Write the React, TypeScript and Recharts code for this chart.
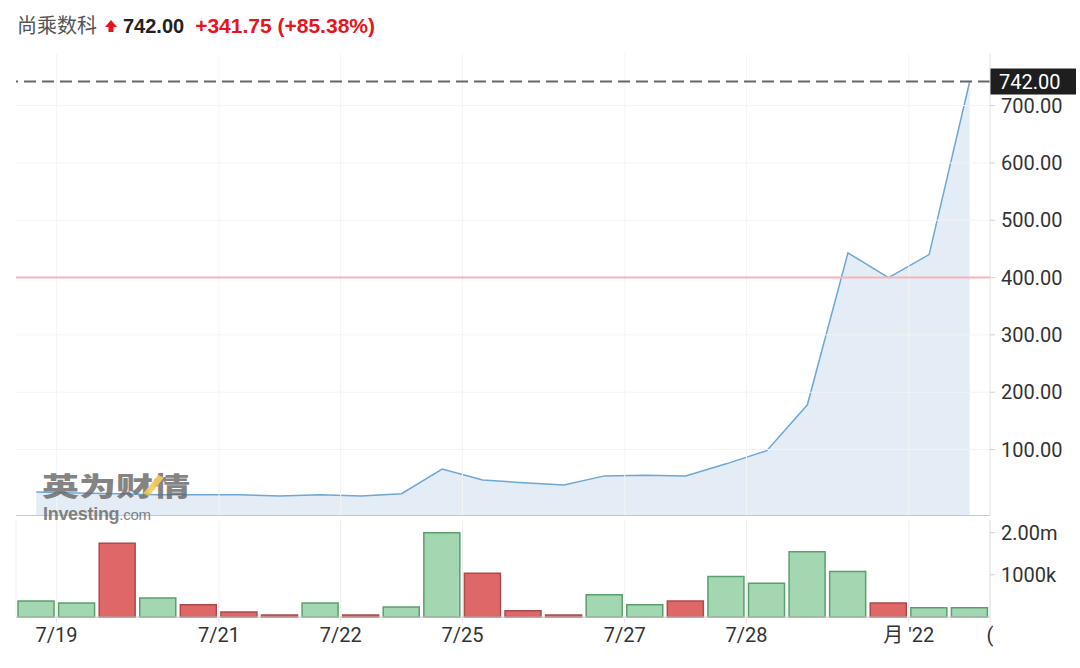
import { ComposedChart, Area, Bar, Cell, XAxis, YAxis, CartesianGrid, ReferenceLine } from 'recharts';

// close price per session slot
const prices = [26, 24, 23, 21, 21, 21, 19, 21, 19, 23, 66, 47, 42, 38, 54, 55, 54, 75, 98, 178, 443, 400, 440, 742];
// volume in thousands
const volumes = [380, 330, 1750, 450, 290, 120, 50, 330, 50, 240, 2000, 1040, 150, 50, 530, 290, 380, 960, 800, 1550, 1080, 330, 220, 220];
const direction = ['up', 'up', 'down', 'up', 'down', 'down', 'down', 'up', 'down', 'up', 'up', 'down', 'down', 'down', 'up', 'up', 'down', 'up', 'up', 'up', 'up', 'down', 'up', 'up'];

const dateTicks = [0.5, 4.5, 7.5, 10.5, 14.5, 17.5, 21.5, 23.5];
const dateLabels = ['7/19', '7/21', '7/22', '7/25', '7/27', '7/28', "月 '22", '('];
const priceTicks = [100, 200, 300, 400, 500, 600, 700];
const priceDomain = [-16, 790];
const volumeTicks = [1000, 2000];

const lastPrice = 742;
const refPrice = 400;

const data = prices.map((p, i) => ({ i, price: p, vol: volumes[i], dir: direction[i] }));

const FONT = "Roboto, 'Noto Sans CJK SC', sans-serif";
const TITLE_FONT = "'Liberation Sans', Arial, 'Noto Sans CJK SC', sans-serif";
const axisTick = { fontSize: 20, fill: '#333', fontFamily: FONT };

const PriceTag = (props: any) => {
  const { viewBox } = props;
  const x = viewBox.x + viewBox.width;
  const y = viewBox.y;
  return (
    <g>
      <rect x={x} y={y - 13} width={86} height={26} fill="#1e1e1e" />
      <text x={x + 9} y={y + 7} fill="#fff" fontSize={20} fontFamily={FONT}>
        {lastPrice.toFixed(2)}
      </text>
    </g>
  );
};

export default function App() {
  return (
    <div style={{ position: 'absolute', left: 0, top: 0, width: 1080, height: 668, background: '#fff', fontFamily: FONT }}>
      <div style={{ position: 'absolute', left: 17, top: 10, fontSize: 20, whiteSpace: 'nowrap', lineHeight: '30px', fontFamily: TITLE_FONT }}>
        <span style={{ color: '#555', fontFamily: "'Noto Sans CJK SC', sans-serif" }}>尚乘数科</span>
        <svg width={14} height={14} viewBox="0 0 14 14" style={{ margin: '0 5px 0 7px' }}>
          <path d="M7 1 L13 8 L9.5 8 L9.5 13 L4.5 13 L4.5 8 L1 8 Z" fill="#e8141c" />
        </svg>
        <span style={{ color: '#222', fontWeight: 700 }}>742.00</span>
        <span style={{ color: '#e8141c', fontWeight: 700, marginLeft: 11, fontSize: 21 }}>+341.75 (+85.38%)</span>
      </div>

      <div style={{ position: 'absolute', left: 0, top: 54 }}>
        <ComposedChart width={1080} height={462} data={data} margin={{ top: 0, right: 0, left: 16, bottom: 0 }}>
          <XAxis dataKey="i" type="number" domain={[-0.5, 23.5]} ticks={dateTicks} hide />
          <YAxis
            orientation="right"
            width={90}
            domain={priceDomain}
            allowDataOverflow
            ticks={priceTicks}
            tickFormatter={(v: number) => v.toFixed(2)}
            tick={axisTick}
            tickSize={5}
            tickMargin={6}
            axisLine={{ stroke: '#e2e2e2' }}
            tickLine={{ stroke: '#d0d0d0' }}
          />
          {priceTicks.map((t) => (
            <ReferenceLine key={`h${t}`} y={t} stroke="#f3f3f3" />
          ))}
          {dateTicks.slice(0, -1).map((t) => (
            <ReferenceLine key={`v${t}`} x={t} stroke="#f4f4f4" />
          ))}
          <Area
            dataKey="price"
            type="linear"
            stroke="#6fa7d4"
            strokeWidth={1.5}
            fill="#e4edf6"
            fillOpacity={1}
            baseValue="dataMin"
            isAnimationActive={false}
          />
          <ReferenceLine y={priceDomain[0]} stroke="#c8c8c8" strokeWidth={2} />
          <ReferenceLine y={refPrice} stroke="#f5b3bd" strokeWidth={2} />
          <ReferenceLine y={lastPrice} stroke="#666" strokeDasharray="12 6" strokeWidth={2} label={<PriceTag />} />
        </ComposedChart>
      </div>

      <div style={{ position: 'absolute', left: 42, top: 472, color: '#666', opacity: 0.8, pointerEvents: 'none', height: 28, overflow: 'visible' }}>
        <div style={{ position: 'relative', fontSize: 37, fontWeight: 900, lineHeight: '37px', height: 37, transform: 'scaleY(0.72)', transformOrigin: 'left top', fontFamily: "'Noto Sans CJK SC', sans-serif", whiteSpace: 'nowrap' }}>
          英为财情
          <span style={{ position: 'absolute', left: 108, top: 4, width: 7, height: 30, background: '#f2bf3a', transform: 'rotate(30deg)', opacity: 0.9 }} />
        </div>
      </div>
      <div style={{ position: 'absolute', left: 43, top: 504, color: '#666', opacity: 0.8, fontSize: 18, lineHeight: '20px', fontFamily: TITLE_FONT, letterSpacing: -0.3, whiteSpace: 'nowrap' }}>
        <b>Investing</b>
        <span style={{ fontSize: 15 }}>.com</span>
      </div>

      <div style={{ position: 'absolute', left: 0, top: 520 }}>
        <ComposedChart width={1080} height={140} data={data} margin={{ top: 0, right: 0, left: 16, bottom: 0 }}>
          <CartesianGrid stroke="#f0f0f0" horizontal={false} />
          <XAxis
            dataKey="i"
            type="number"
            domain={[-0.5, 23.5]}
            ticks={dateTicks}
            tickFormatter={(v: number) => dateLabels[dateTicks.indexOf(v)]}
            tick={axisTick}
            height={43}
            tickSize={6}
            tickMargin={5}
            axisLine={{ stroke: '#c8c8c8' }}
            tickLine={{ stroke: '#e6e6e6' }}
            interval={0}
          />
          <YAxis
            orientation="right"
            width={90}
            domain={[0, 2300]}
            ticks={volumeTicks}
            tickFormatter={(v: number) => (v === 2000 ? '2.00m' : '1000k')}
            tick={axisTick}
            tickSize={5}
            tickMargin={6}
            axisLine={{ stroke: '#e2e2e2' }}
            tickLine={{ stroke: '#d0d0d0' }}
          />
          <Bar dataKey="vol" barSize={36} isAnimationActive={false}>
            {data.map((d) => (
              <Cell
                key={d.i}
                fill={d.dir === 'up' ? '#a3d7b2' : '#e06767'}
                stroke={d.dir === 'up' ? '#5c9e6e' : '#b04a4a'}
                strokeWidth={1.5}
              />
            ))}
          </Bar>
        </ComposedChart>
      </div>
    </div>
  );
}
